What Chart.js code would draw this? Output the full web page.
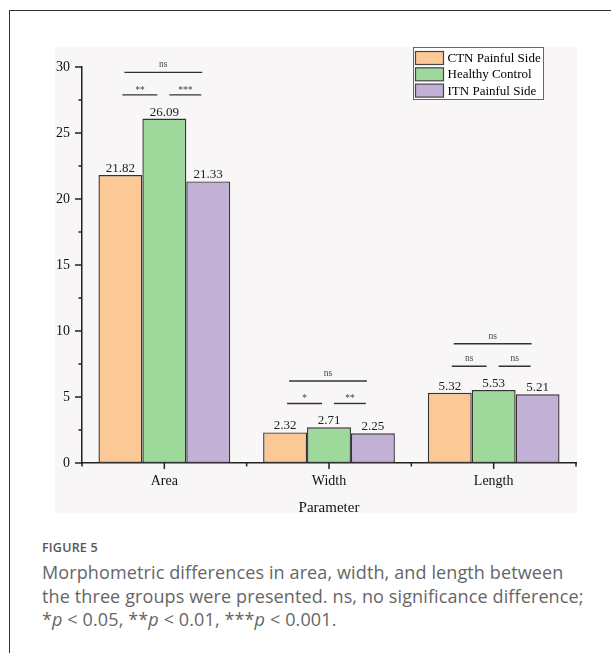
<!DOCTYPE html>
<html>
<head>
<meta charset="utf-8">
<script src="https://cdn.jsdelivr.net/npm/chart.js@4.4.0/dist/chart.umd.min.js"></script>
<style>
  body { margin: 0; background: #fff; width: 611px; height: 653px; overflow: hidden; position: relative; }
  #frame { position: absolute; left: 9px; top: 10px; width: 610px; height: 660px; border-left: 1px solid #333; border-top: 1px solid #333; }
  #plotbg { position: absolute; left: 55px; top: 47px; width: 522px; height: 466px; background: #f8f6f7; }
  #wrap { position: absolute; left: 50px; top: 40px; width: 527px; height: 485px; }
  #caption { position: absolute; left: 42px; top: 539px; width: 569px; font-family: "Open Sans", sans-serif; color: #666; white-space: nowrap; }
  #caption .fig { font-size: 12.5px; font-weight: 600; color: #555; letter-spacing: 0.2px; line-height: 18px; }
  #caption .txt { font-size: 18px; line-height: 23.5px; font-weight: 400; letter-spacing: 0.12px; margin-top: 4px; }
</style>
</head>
<body>
<div id="frame"></div>
<div id="plotbg"></div>
<div id="wrap"><canvas id="chart" width="527" height="485"></canvas></div>
<div id="caption">
  <div class="fig">FIGURE 5</div>
  <div class="txt">Morphometric differences in area, width, and length between<br>the three groups were presented. ns, no significance difference;<br>*<i>p</i> &lt; 0.05, **<i>p</i> &lt; 0.01, ***<i>p</i> &lt; 0.001.</div>
</div>
<script>
// data
const categories = ['Area', 'Width', 'Length'];
const groupNames = ['CTN Painful Side', 'Healthy Control', 'ITN Painful Side'];
const ctnValues = [21.82, 2.32, 5.32];
const healthyValues = [26.09, 2.71, 5.53];
const itnValues = [21.33, 2.25, 5.21];
const groupColors = ['#fcc896', '#9ed89a', '#c2b0d6'];

// significance marks per category: [CTN vs Healthy, Healthy vs ITN, CTN vs ITN]
const sigLeft = ['**', '*', 'ns'];
const sigRight = ['***', '**', 'ns'];
const sigTop = ['ns', 'ns', 'ns'];

const serif = '"Liberation Serif", "Times New Roman", serif';

// value labels on top of bars
const valueLabels = {
    id: 'valueLabels',
    afterDatasetsDraw(chart) {
        const ctx = chart.ctx;
        ctx.save();
        ctx.font = '13px ' + serif;
        ctx.fillStyle = '#222';
        ctx.textAlign = 'center';
        ctx.textBaseline = 'alphabetic';
        chart.data.datasets.forEach((ds, i) => {
            chart.getDatasetMeta(i).data.forEach((bar, j) => {
                ctx.fillText(ds.data[j].toFixed(2), bar.x, bar.y - 3);
            });
        });
        ctx.restore();
    }
};

// significance brackets above each group
const sigLines = {
    id: 'sigLines',
    afterDatasetsDraw(chart) {
        const ctx = chart.ctx;
        const y = chart.scales.y;
        const m = [0, 1, 2].map(i => chart.getDatasetMeta(i).data);
        ctx.save();
        ctx.strokeStyle = '#333';
        ctx.lineWidth = 1.4;
        ctx.fillStyle = '#444';
        ctx.font = '9.5px ' + serif;
        ctx.textAlign = 'center';
        ctx.textBaseline = 'alphabetic';
        categories.forEach((c, j) => {
            const top = Math.max(ctnValues[j], healthyValues[j], itnValues[j]);
            const yLow = y.getPixelForValue(top + 1.8);
            const yHigh = y.getPixelForValue(top + 3.5);
            const x1 = m[0][j].x, x2 = m[1][j].x, x3 = m[2][j].x;
            const seg = (a, b, yy, txt) => {
                ctx.beginPath();
                ctx.moveTo(a, yy);
                ctx.lineTo(b, yy);
                ctx.stroke();
                ctx.fillText(txt, (a + b) / 2, yy - (txt === 'ns' ? 5 : 2));
            };
            seg(x1 + 2, x2 - 7, yLow, sigLeft[j]);
            seg(x2 + 5, x3 - 7, yLow, sigRight[j]);
            seg(x1 + 4, x3 - 6, yHigh, sigTop[j]);
        });
        ctx.restore();
    }
};

// axis tick marks (major + minor)
const axisTicks = {
    id: 'axisTicks',
    afterDraw(chart) {
        const ctx = chart.ctx;
        const xs = chart.scales.x, ys = chart.scales.y;
        const area = chart.chartArea;
        ctx.save();
        ctx.strokeStyle = '#222';
        ctx.lineWidth = 1.5;
        ctx.beginPath();
        for (let v = 0; v <= 30; v += 2.5) {
            const py = ys.getPixelForValue(v);
            const len = (v % 5 === 0) ? 7 : 3.5;
            ctx.moveTo(area.left, py);
            ctx.lineTo(area.left - len, py);
        }
        for (let i = 0; i < categories.length; i++) {
            const px = xs.getPixelForValue(i);
            ctx.moveTo(px, area.bottom);
            ctx.lineTo(px, area.bottom + 6);
        }
        const step = (area.right - area.left) / categories.length;
        for (let i = 0; i <= categories.length; i++) {
            const px = area.left + step * i;
            ctx.moveTo(px, area.bottom);
            ctx.lineTo(px, area.bottom + 3.5);
        }
        ctx.stroke();
        ctx.restore();
    }
};

// legend box in the top right corner
const boxLegend = {
    id: 'boxLegend',
    afterDraw(chart) {
        const ctx = chart.ctx;
        const x0 = 363.5, y0 = 7.5, w = 130, h = 52;
        ctx.save();
        ctx.fillStyle = '#fff';
        ctx.fillRect(x0, y0, w, h);
        ctx.strokeStyle = '#666';
        ctx.lineWidth = 1;
        ctx.strokeRect(x0, y0, w, h);
        ctx.font = '13px ' + serif;
        ctx.textBaseline = 'middle';
        ctx.textAlign = 'left';
        groupNames.forEach((name, i) => {
            const ry = y0 + 3 + i * 16.3;
            ctx.fillStyle = groupColors[i];
            ctx.fillRect(x0 + 2, ry + 1, 28, 13);
            ctx.strokeStyle = '#444';
            ctx.lineWidth = 1.2;
            ctx.strokeRect(x0 + 2, ry + 1, 28, 13);
            ctx.fillStyle = '#000';
            ctx.fillText(name, x0 + 34, ry + 8);
        });
        ctx.restore();
    }
};

const ctx = document.getElementById('chart').getContext('2d');
const chart = new Chart(ctx, {
    type: 'bar',
    data: {
        labels: categories,
        datasets: [
            { label: groupNames[0], data: ctnValues, backgroundColor: groupColors[0] },
            { label: groupNames[1], data: healthyValues, backgroundColor: groupColors[1] },
            { label: groupNames[2], data: itnValues, backgroundColor: groupColors[2] }
        ]
    },
    options: {
        responsive: false,
        animation: false,
        layout: { padding: { top: 27, right: 1, bottom: 8, left: 0 } },
        datasets: {
            bar: {
                categoryPercentage: 0.8,
                barPercentage: 1.0,
                borderColor: '#333',
                borderWidth: 1.4,
                borderSkipped: false
            }
        },
        plugins: {
            legend: { display: false },
            tooltip: { enabled: false }
        },
        scales: {
            x: {
                grid: { display: false, drawTicks: false },
                border: { display: true, color: '#222', width: 1.5 },
                ticks: { color: '#111', font: { family: serif, size: 14 }, padding: 10 },
                title: { display: true, text: 'Parameter', color: '#111', font: { family: serif, size: 15 }, padding: 0 },
                afterFit(scale) { scale.height = 54; }
            },
            y: {
                min: 0,
                max: 30,
                grid: { display: false, drawTicks: false },
                border: { display: true, color: '#222', width: 1.5 },
                ticks: { stepSize: 5, color: '#111', font: { family: serif, size: 14 }, padding: 12 },
                afterFit(scale) { scale.width = 32; }
            }
        }
    },
    plugins: [valueLabels, sigLines, axisTicks, boxLegend]
});
</script>
</body>
</html>
